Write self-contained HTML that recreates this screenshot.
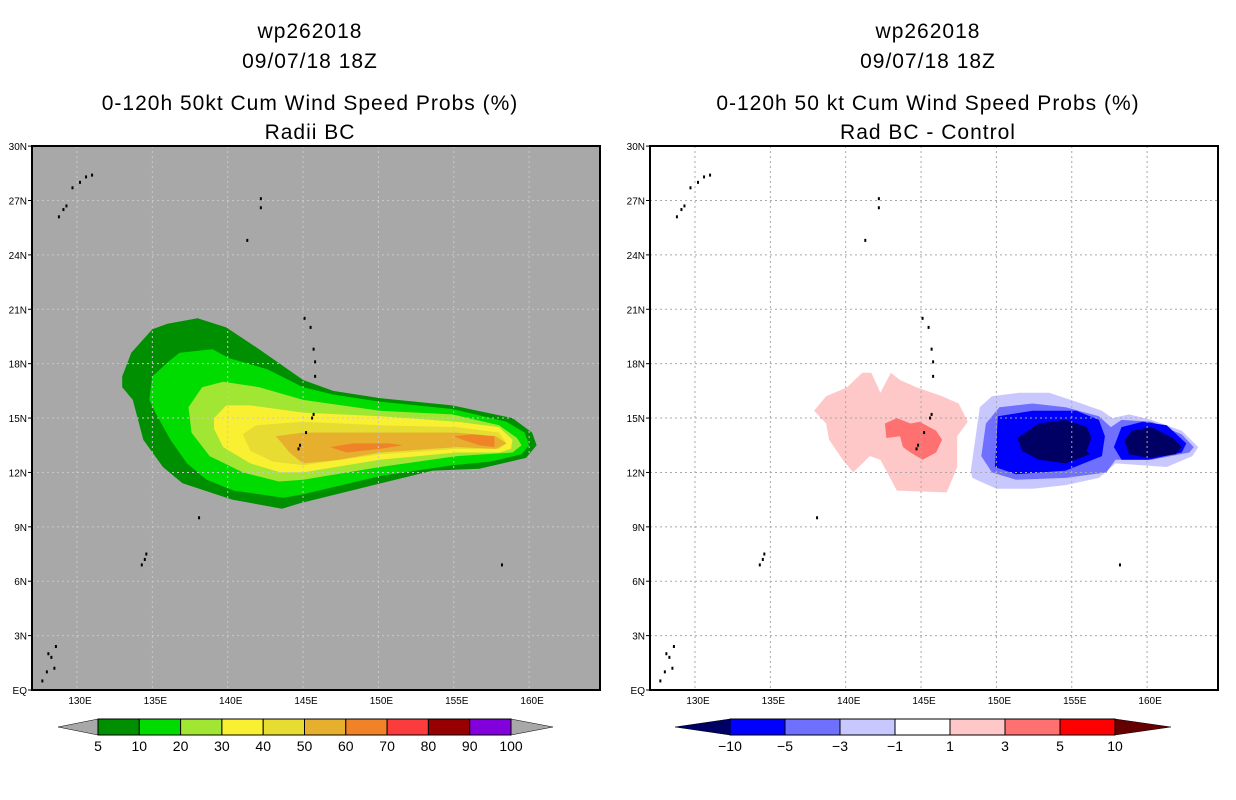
<!DOCTYPE html>
<html><head><meta charset="utf-8"><style>
body{margin:0;background:#fff;width:1236px;height:800px;overflow:hidden}
svg{display:block}
text{font-family:"Liberation Sans",sans-serif;fill:#000}
</style></head><body>
<svg id="chart" width="1236" height="800" viewBox="0 0 1236 800"></svg>
<script>
// ---- data ----
const lonTicks=[130,135,140,145,150,155,160];
const latTicks=[0,3,6,9,12,15,18,21,24,27,30];
const probLevels=[5,10,20,30,40,50,60,70,80,90,100];
const probColors=["#008f00","#00dc00","#a0e632","#faf032","#e6dc32","#e6af2d","#f08228","#fa3c3c","#960000","#8200dc"];
const diffLevels=[-10,-5,-3,-1,1,3,5,10];
const diffColors=["#0000ff","#7070ff","#c8c8ff","#ffffff","#ffc8c8","#ff7070","#ff0000"];
// probability contours (lon,lat pairs), index = level index
const prob5=[[133.0,17.3],[133.6,18.6],[135.0,19.9],[136.0,20.2],[138.0,20.5],[139.9,20.0],[141.9,18.9],[145.0,17.1],[147.0,16.5],[150.1,16.1],[154.9,15.7],[158.9,15.0],[160.2,14.2],[160.5,13.5],[159.8,12.8],[156.7,12.2],[153.6,12.1],[149.2,11.2],[144.8,10.3],[143.6,10.0],[140.3,10.5],[137.0,11.4],[135.7,12.3],[134.4,13.8],[133.7,16.0],[133.0,16.7]];
const prob10=[[134.8,16.0],[135.0,17.3],[136.2,18.2],[136.8,18.6],[139.0,18.8],[140.1,18.3],[142.6,17.7],[145.0,16.7],[147.0,16.3],[150.1,15.9],[154.9,15.5],[158.5,14.8],[159.7,14.2],[160.0,13.5],[159.5,13.0],[157.4,12.6],[154.9,12.4],[150.1,11.8],[145.0,10.8],[143.7,10.6],[140.4,11.0],[138.6,11.6],[137.3,12.5],[136.2,13.8],[135.2,15.3]];
const prob20=[[137.4,15.6],[138.3,16.7],[139.7,17.0],[142.1,16.7],[145.0,16.0],[150.1,15.4],[154.9,15.2],[158.0,14.6],[159.2,13.9],[159.5,13.5],[158.9,13.1],[155.2,12.9],[150.1,12.3],[145.0,11.6],[143.4,11.5],[141.0,12.0],[138.8,12.9],[137.6,14.2]];
const prob30=[[139.1,15.0],[139.9,15.7],[141.5,15.7],[145.0,15.3],[150.1,15.1],[155.2,14.8],[158.0,14.5],[158.9,13.8],[158.8,13.3],[158.0,13.1],[155.2,13.1],[150.1,12.7],[145.0,12.0],[143.5,12.0],[141.5,12.5],[139.7,13.4],[139.1,14.4]];
const prob40=[[141.0,14.1],[141.9,14.6],[145.0,14.8],[150.1,14.6],[155.2,14.5],[158.0,14.2],[158.5,13.6],[158.0,13.3],[155.2,13.3],[150.1,13.0],[145.0,12.4],[143.0,12.6],[141.5,13.2]];
const prob50=[[143.2,14.0],[145.0,14.2],[150.1,14.2],[155.2,14.2],[157.8,14.0],[158.5,13.6],[157.8,13.3],[155.2,13.4],[150.1,13.1],[147.4,12.7],[145.0,12.5],[144.1,13.1],[143.6,13.6]];
const prob60a=[[146.8,13.4],[148.3,13.6],[150.7,13.6],[151.6,13.5],[150.1,13.3],[147.9,13.1]];
const prob60b=[[155.0,14.0],[156.2,14.1],[157.7,14.0],[157.7,13.4],[156.7,13.5],[155.6,13.8]];
// difference contours
const diffPos1=[[137.9,15.4],[138.7,16.2],[140.1,16.7],[141.1,17.5],[141.7,17.5],[142.3,16.4],[143.0,17.5],[143.6,17.1],[144.7,16.7],[146.4,16.2],[147.5,15.8],[148.1,14.8],[147.4,14.0],[147.4,12.3],[146.7,10.9],[143.4,11.0],[142.3,12.7],[141.6,12.9],[140.5,12.0],[139.8,12.7],[138.9,13.8],[138.7,14.7]];
const diffPos3=[[142.6,14.7],[143.4,15.0],[144.3,14.7],[144.9,14.8],[146.0,14.3],[146.4,13.8],[146.0,13.1],[145.1,12.7],[144.3,13.1],[143.8,13.4],[143.6,14.0],[142.7,13.9]];
const diffNeg1=[[148.3,12.1],[148.9,15.6],[149.7,16.2],[151.5,16.4],[153.5,16.4],[155.3,15.9],[157.0,15.4],[157.7,15.0],[158.8,15.2],[160.3,14.9],[162.3,14.3],[163.4,13.4],[163.0,12.9],[161.3,12.3],[157.9,12.5],[156.8,11.7],[154.6,11.3],[152.4,11.1],[150.0,11.1],[148.4,11.7]];
const diffNeg3=[[149.0,12.9],[149.3,14.7],[150.2,15.6],[152.4,15.8],[154.6,15.6],[156.8,15.1],[157.6,14.5],[158.3,14.9],[160.3,14.8],[162.3,14.1],[163.1,13.4],[162.8,13.1],[160.3,12.7],[157.9,12.7],[157.3,12.0],[154.6,11.7],[151.3,11.6],[149.7,12.0]];
const diffNeg5a=[[149.9,12.3],[150.1,15.1],[152.4,15.4],[155.3,15.4],[156.8,14.9],[157.2,14.0],[157.0,12.9],[154.6,12.1],[151.3,11.9]];
const diffNeg5b=[[157.8,13.4],[158.3,14.5],[159.7,14.8],[161.3,14.6],[162.6,13.6],[162.3,13.1],[160.1,12.7],[158.3,12.7]];
const diffNeg10a=[[151.4,13.9],[152.8,14.7],[154.6,14.9],[156.0,14.5],[156.3,13.9],[156.0,13.2],[156.2,13.0],[154.6,12.5],[152.8,12.7],[151.7,13.2]];
const diffNeg10b=[[158.5,13.8],[159.0,14.3],[160.3,14.5],[161.7,13.9],[162.3,13.4],[161.9,13.0],[160.1,12.8],[158.8,13.0]];
// islands (lon,lat)
const islands=[[128.8,26.1],[129.1,26.5],[129.3,26.7],[129.7,27.7],[130.2,28.0],[130.6,28.3],[131.0,28.4],[142.2,26.6],[142.2,27.1],[141.3,24.8],[145.1,20.5],[145.5,20.0],[145.7,18.8],[145.8,18.1],[145.8,17.3],[145.7,15.2],[145.6,15.0],[145.2,14.2],[144.8,13.5],[144.7,13.3],[138.1,9.5],[134.6,7.5],[134.5,7.2],[134.3,6.9],[158.2,6.9],[128.0,1.0],[128.3,1.8],[128.6,2.4],[128.1,2.0],[127.7,0.5],[128.5,1.2]];

const NS="http://www.w3.org/2000/svg";
const svg=document.getElementById('chart');
function el(tag,attrs,parent){const e=document.createElementNS(NS,tag);for(const k in attrs)e.setAttribute(k,attrs[k]);(parent||svg).appendChild(e);return e;}

function makePanel(ox,bg,gridCol,titles,polys,name){
  const x0=ox+32,x1=ox+600,y0=146,y1=690;
  const lonX=l=>ox+77+(l-130)*15.07;
  const latY=a=>690-a*18.13;
  const g=el('g',{});
  
  
  const clipId='clip'+ox;
  const cp=el('clipPath',{id:clipId},g);el('rect',{x:x0,y:y0,width:x1-x0,height:y1-y0},cp);
  const bgr=el('rect',{x:x0,y:y0,width:x1-x0,height:y1-y0,fill:bg},g);
  
  
  const inner=el('g',{'clip-path':'url(#'+clipId+')'},g);
  polys.forEach(p=>{
    const d='M'+p.pts.map(q=>lonX(q[0]).toFixed(1)+','+latY(q[1]).toFixed(1)).join('L')+'Z';
    const path=el('path',{d:d,fill:p.color},inner);
    
    
  });
  lonTicks.forEach(l=>{
    const ln=el('line',{x1:lonX(l),x2:lonX(l),y1:y0,y2:y1,stroke:gridCol,'stroke-width':1,'stroke-dasharray':'2,3'},inner);
    
    
    const t=el('text',{x:lonX(l)+3,y:704,'font-size':10,'text-anchor':'middle'},g);t.textContent=l+'E';
    
    
  });
  latTicks.forEach(a=>{
    if(a>0&&a<30){const ln=el('line',{x1:x0,x2:x1,y1:latY(a),y2:latY(a),stroke:gridCol,'stroke-width':1,'stroke-dasharray':'2,3'},inner);
    
    }
    el('line',{x1:x0-4,x2:x0,y1:latY(a),y2:latY(a),stroke:'#000'},g);
    const t=el('text',{x:x0-5,y:latY(a)+4,'font-size':10,'text-anchor':'end'},g);t.textContent=a===0?'EQ':a+'N';
    
    
  });
  islands.forEach(p=>{
    const r=el('rect',{x:lonX(p[0])-1,y:latY(p[1])-1.5,width:2,height:3,fill:'#000'},inner);
    
    
  });
  const fr=el('rect',{x:x0,y:y0,width:x1-x0,height:y1-y0,fill:'none',stroke:'#000','stroke-width':2},g);
  
  
  const ys=[38,68,110,139];
  titles.forEach((s,i)=>{
    const t=el('text',{x:ox+310,y:ys[i],'font-size':21,'text-anchor':'middle','letter-spacing':'1'},g);t.textContent=s;
    
    
  });
}

makePanel(0,'#a8a8a8','#c8c8c8',['wp262018','09/07/18 18Z','0-120h 50kt Cum Wind Speed Probs (%)','Radii BC'],[
 {pts:prob5,color:probColors[0],name:'contour-5'},
 {pts:prob10,color:probColors[1],name:'contour-10'},
 {pts:prob20,color:probColors[2],name:'contour-20'},
 {pts:prob30,color:probColors[3],name:'contour-30'},
 {pts:prob40,color:probColors[4],name:'contour-40'},
 {pts:prob50,color:probColors[5],name:'contour-50'},
 {pts:prob60a,color:probColors[6],name:'contour-60-west'},
 {pts:prob60b,color:probColors[6],name:'contour-60-east'}],'left-panel');

makePanel(618,'#ffffff','#a8a8a8',['wp262018','09/07/18 18Z','0-120h 50 kt Cum Wind Speed Probs (%)','Rad BC - Control'],[
 {pts:diffPos1,color:diffColors[4],name:'diff-contour-pos1'},
 {pts:diffPos3,color:diffColors[5],name:'diff-contour-pos3'},
 {pts:diffNeg1,color:diffColors[2],name:'diff-contour-neg1'},
 {pts:diffNeg3,color:diffColors[1],name:'diff-contour-neg3'},
 {pts:diffNeg5a,color:diffColors[0],name:'diff-contour-neg5-west'},
 {pts:diffNeg5b,color:diffColors[0],name:'diff-contour-neg5-east'},
 {pts:diffNeg10a,color:'#000064',name:'diff-contour-neg10-west'},
 {pts:diffNeg10b,color:'#000064',name:'diff-contour-neg10-east'}],'right-panel');

function colorbar(bx0,bx1,tipL,tipR,levels,colors,lowCol,highCol,name){
  const g=el('g',{});
  
  
  const yt=719,yb=735,ym=727,n=colors.length,w=(bx1-bx0)/n;
  const tl=el('polygon',{points:`${tipL},${ym} ${bx0},${yt} ${bx0},${yb}`,fill:lowCol,stroke:'#000','stroke-width':0.5},g);
  
  
  const tr=el('polygon',{points:`${tipR},${ym} ${bx1},${yt} ${bx1},${yb}`,fill:highCol,stroke:'#000','stroke-width':0.5},g);
  
  
  colors.forEach((c,i)=>{
    const r=el('rect',{x:bx0+i*w,y:yt,width:w,height:yb-yt,fill:c,stroke:'#000','stroke-width':1},g);
    
    
  });
  levels.forEach((v,i)=>{
    const t=el('text',{x:bx0+i*w,y:751,'font-size':14,'text-anchor':'middle'},g);
    t.textContent=v<0?'\u2212'+(-v):String(v);
    
    
  });
}
colorbar(98,511,58,553,probLevels,probColors,'#a8a8a8','#a8a8a8','prob-colorbar');
colorbar(730,1115,675,1171,diffLevels,diffColors,'#000064','#640000','diff-colorbar');
</script>
</body></html>
